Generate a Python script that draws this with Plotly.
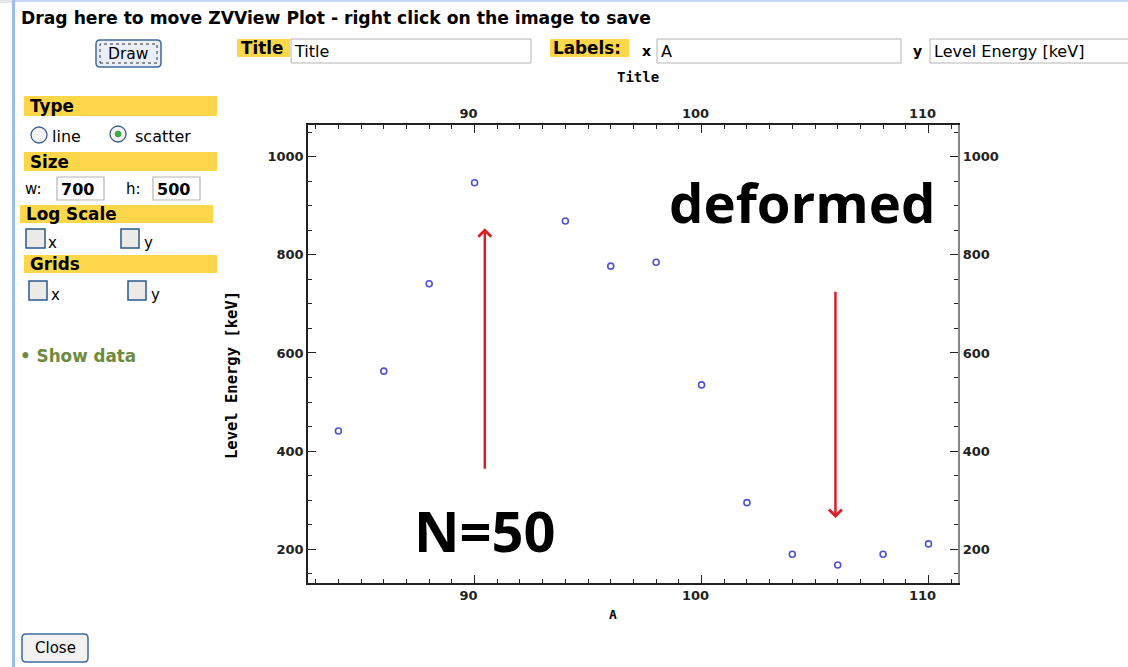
import plotly.graph_objects as go

# ---- data: mass number A vs level energy ----
mass_number = [84, 86, 88, 90, 94, 96, 98, 100, 102, 104, 106, 108, 110]
level_energy = [441, 563, 741, 947, 869, 777, 785, 535, 295, 190, 168, 190, 211]

x_ticks = [90, 100, 110]
y_ticks = [200, 400, 600, 800, 1000]

# annotation anchors (data units)
closed_shell_A = 90.45
closed_shell_arrow = (361, 854)      # tail, head energies
deformed_A = 105.9
deformed_arrow = (728, 264)          # tail, head energies

# ---- page geometry (pixels) ----
FIG_W, FIG_H = 1128, 667
PL, PR, PT, PB = 308, 958, 125, 583
PW, PH = PR - PL, PB - PT

X_RANGE = [82.66, 111.30]
Y_RANGE = [131.3, 1064.6]


def px(x):
    return (x - PL) / PW


def py(y):
    return (PB - y) / PH


shapes = []
annotations = []

YELLOW = "#fdd64a"
OLIVE = "#6e8a3c"
UI_FONT = "DejaVu Sans"
PLOT_FONT = "DejaVu Sans Mono"
BAR_SIZE = 16.8
INPUT_SIZE = 16


def rect(x0, y0, x1, y1, fill="rgba(0,0,0,0)", line="rgba(0,0,0,0)", lw=0, dash=None):
    ln = dict(color=line, width=lw)
    if dash:
        ln["dash"] = dash
    shapes.append(dict(type="rect", xref="paper", yref="paper",
                       x0=px(x0), x1=px(x1), y0=py(y1), y1=py(y0),
                       fillcolor=fill, line=ln, layer="above"))


def rounded(x0, y0, x1, y1, r, fill, line, lw):
    pts = [
        ("M", x0 + r, y0), ("L", x1 - r, y0), ("Q", x1, y0, x1, y0 + r),
        ("L", x1, y1 - r), ("Q", x1, y1, x1 - r, y1), ("L", x0 + r, y1),
        ("Q", x0, y1, x0, y1 - r), ("L", x0, y0 + r), ("Q", x0, y0, x0 + r, y0),
    ]
    parts = []
    for p in pts:
        cmd = p[0]
        coords = p[1:]
        s = cmd
        for i in range(0, len(coords), 2):
            s += f" {px(coords[i]):.5f},{py(coords[i + 1]):.5f}"
        parts.append(s)
    path = " ".join(parts) + " Z"
    shapes.append(dict(type="path", xref="paper", yref="paper", path=path,
                       fillcolor=fill, line=dict(color=line, width=lw), layer="above"))


def circle(cx, cy, r, fill, line, lw):
    shapes.append(dict(type="circle", xref="paper", yref="paper",
                       x0=px(cx - r), x1=px(cx + r), y0=py(cy + r), y1=py(cy - r),
                       fillcolor=fill, line=dict(color=line, width=lw), layer="above"))


def text(x, y, s, size=14, family=UI_FONT, color="#000", bold=False, anchor="left"):
    annotations.append(dict(xref="paper", yref="paper", x=px(x), y=py(y),
                            text=s, showarrow=False, xanchor=anchor, yanchor="middle",
                            borderpad=0, borderwidth=0,
                            font=dict(family=family, size=size, color=color,
                                      weight="bold" if bold else "normal")))


def checkbox(x0, y0, x1, y1):
    rect(x0, y0, x1, y1, fill="#eceae6", line="#2a5a8a", lw=1.5)


# ---- window chrome ----
rect(0, 0, 12, 3, fill="#e6e6e6")
rect(12, 0, 15, FIG_H, fill="#9cbcf0")
rect(15, 0, FIG_W, 2, fill="#c6d8f6")

text(21, 18, "Drag here to move ZVView Plot - right click on the image to save",
     size=17.2, bold=True)

# Draw button
rounded(96, 40, 161, 67, 4, "#e9eef7", "#3f6a9c", 1.5)
rect(100, 44, 157, 63, line="#333", lw=1, dash="dot")
text(128.5, 54, "Draw", size=15.5, anchor="center")

# Title field
rect(237, 39, 290, 57, fill=YELLOW)
text(241, 48, "Title", size=BAR_SIZE, bold=True)
rect(291, 39, 531, 63, fill="#fff", line="#b4b4b4", lw=1)
text(294, 52, "Title", size=INPUT_SIZE)

# Labels fields
rect(550, 39, 629, 57, fill=YELLOW)
text(553, 48, "Labels:", size=BAR_SIZE, bold=True)
text(642, 51, "x", size=14, bold=True)
rect(657, 39, 901, 63, fill="#fff", line="#b4b4b4", lw=1)
text(661, 52, "A", size=INPUT_SIZE)
text(913, 51, "y", size=14, bold=True)
rect(930, 39, 1140, 63, fill="#fff", line="#b4b4b4", lw=1)
text(934, 52, "Level Energy [keV]", size=INPUT_SIZE)

# ---- left option panel ----
rect(24, 96, 217, 116, fill=YELLOW)
text(30, 106, "Type", size=BAR_SIZE, bold=True)
circle(39, 135, 8, "#f4f4f4", "#3a5f8a", 1.3)
text(52, 136, "line", size=16)
circle(118, 134, 8, "#f4f4f4", "#3a5f8a", 1.3)
circle(118, 134, 3, "#3cae3c", "#2d8a2d", 0.5)
text(135, 136, "scatter", size=16)

rect(24, 152, 217, 171, fill=YELLOW)
text(30, 162, "Size", size=BAR_SIZE, bold=True)
text(25, 189, "w:", size=15)
rect(57, 177, 104, 200, fill="#fff", line="#b4b4b4", lw=1.2)
text(61, 189, "700", size=16, bold=True)
text(126, 189, "h:", size=15)
rect(153, 177, 200, 200, fill="#fff", line="#b4b4b4", lw=1.2)
text(157, 189, "500", size=16, bold=True)

rect(20, 205, 213, 223, fill=YELLOW)
text(26, 214, "Log Scale", size=BAR_SIZE, bold=True)
checkbox(26, 229, 45, 248)
text(48, 243, "x", size=15)
checkbox(121, 229, 139, 248)
text(144, 243, "y", size=15)

rect(24, 255, 217, 273, fill=YELLOW)
text(30, 264, "Grids", size=BAR_SIZE, bold=True)
checkbox(29, 281, 47, 300)
text(51, 295, "x", size=15)
checkbox(128, 281, 146, 300)
text(151, 295, "y", size=15)

text(20, 356, "• Show data", size=BAR_SIZE, bold=True, color=OLIVE)

# Close button
rounded(22, 634, 88, 662, 4, "#f2f2f2", "#3f6a9c", 1.5)
text(55, 648, "Close", size=15, anchor="center")

# ---- chart titles ----
text(638, 77, "Title", size=14, family=PLOT_FONT, bold=True, anchor="center")
text(613, 614, "A", size=13, family=PLOT_FONT, bold=True, anchor="center")
annotations.append(dict(xref="paper", yref="paper", x=px(232), y=py(375),
                        text="Level Energy [keV]", showarrow=False, textangle=-90,
                        xanchor="center", yanchor="middle",
                        font=dict(family=PLOT_FONT, size=15.5, color="#000", weight="bold")))

# ---- figure annotations on the data ----
RED = "#dc1f26"
for a_val, (tail, head) in [(closed_shell_A, closed_shell_arrow), (deformed_A, deformed_arrow)]:
    annotations.append(dict(xref="x", yref="y", axref="x", ayref="y",
                            x=a_val, y=head, ax=a_val, ay=tail, text="",
                            showarrow=True, arrowhead=4, arrowsize=1, arrowwidth=2.5,
                            arrowcolor=RED))
annotations.append(dict(xref="x", yref="y", x=closed_shell_A, y=240, text="N=50",
                        showarrow=False, xanchor="center", yanchor="middle",
                        font=dict(family="Open Sans", size=56, color="#000", weight="bold")))
annotations.append(dict(xref="x", yref="y", x=104.45, y=908, text="deformed",
                        showarrow=False, xanchor="center", yanchor="middle",
                        font=dict(family="Open Sans", size=54.5, color="#000", weight="bold")))

# ---- traces ----
marker = dict(symbol="circle-open", size=6, color="#5050d6", line=dict(width=1.6))
fig = go.Figure()
fig.add_trace(go.Scatter(x=mass_number, y=level_energy, mode="markers",
                         marker=marker, showlegend=False, hoverinfo="x+y"))
# twin axes carry the top and right tick labels
fig.add_trace(go.Scatter(x=mass_number, y=level_energy, mode="markers",
                         marker=dict(size=1, opacity=0), xaxis="x2", yaxis="y2",
                         showlegend=False, hoverinfo="skip"))

tickfont = dict(family=UI_FONT, size=13, color="#222", weight="bold")
common = dict(showgrid=False, zeroline=False, ticks="inside", ticklen=8, tickwidth=1.3,
              tickcolor="#222", showline=True, linewidth=1.5, linecolor="#222",
              tickfont=tickfont)
x_minor = dict(dtick=1, tick0=0, ticks="inside", ticklen=4, tickcolor="#222")
y_minor = dict(dtick=50, tick0=0, ticks="inside", ticklen=4, tickcolor="#222")

fig.update_layout(
    width=FIG_W, height=FIG_H,
    margin=dict(l=PL, r=FIG_W - PR, t=PT, b=FIG_H - PB, pad=0),
    paper_bgcolor="#fff", plot_bgcolor="#fff",
    xaxis=dict(range=X_RANGE, tickvals=x_ticks, side="bottom", minor=x_minor,
               ticklabelshift=-6, **common),
    yaxis=dict(range=Y_RANGE, tickvals=y_ticks, side="left", minor=y_minor, **common),
    xaxis2=dict(range=X_RANGE, tickvals=x_ticks, side="top", overlaying="x", minor=x_minor,
                ticklabelshift=-6, **common),
    yaxis2=dict(range=Y_RANGE, tickvals=y_ticks, side="right", overlaying="y", minor=y_minor,
                **{**common, "linecolor": "#888", "linewidth": 2.2}),
    shapes=shapes,
    annotations=annotations,
)

fig.write_html("out.html", config={"displayModeBar": False})
